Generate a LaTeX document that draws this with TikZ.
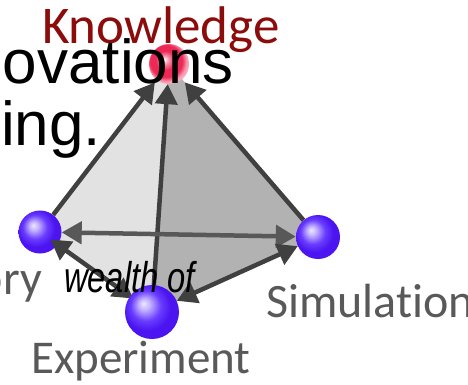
\documentclass[tikz,border=0pt]{standalone}
\usepackage{fontspec}
\setmainfont{Carlito}[Ligatures=NoCommon]
\newfontfamily\arialfont{Liberation Sans}
\usetikzlibrary{arrows.meta}
\definecolor{kred}{RGB}{140,12,12}
\definecolor{lblgray}{RGB}{89,89,89}
\definecolor{arrdark}{RGB}{64,64,64}
\definecolor{arrmid}{RGB}{88,88,88}
\definecolor{faceL}{RGB}{226,226,226}
\definecolor{faceR}{RGB}{178,178,178}
\definecolor{sphcol}{RGB}{105,60,255}
\definecolor{sphdark}{RGB}{75,20,240}
\definecolor{kball}{RGB}{238,40,85}
\pgfdeclareradialshading{purpleball}{\pgfqpoint{-8bp}{8bp}}{color(0bp)=(white!88!sphcol); color(5bp)=(white!62!sphcol); color(14bp)=(sphcol); color(22bp)=(sphdark); color(50bp)=(sphdark)}
\pgfdeclareradialshading{redball}{\pgfqpoint{-6bp}{6bp}}{color(0bp)=(white); color(5bp)=(white!50!kball); color(12bp)=(kball); color(20bp)=(kball); color(25bp)=(kball!45!white); color(50bp)=(white)}
\pgfdeclarelayer{back}
\pgfdeclarelayer{mid}
\pgfsetlayers{back,mid,main}
\tikzset{
  ball/.style={circle, inner sep=0pt, shading=purpleball},
  arrK/.style={draw=arrdark, line width=4.5pt, -{Triangle[length=20pt,width=22pt]}},
  arrB/.style={draw=arrdark, line width=4.5pt, {Triangle[length=20pt,width=22pt]}-{Triangle[length=20pt,width=22pt]}},
  lbl/.style={inner sep=0pt, text=lblgray, font=\fontsize{48}{48}\selectfont},
  big/.style={inner sep=0pt, text=black, font=\arialfont\fontsize{62}{62}\selectfont}
}
\begin{document}
\begin{tikzpicture}[x=1pt,y=-1pt]
\useasboundingbox (0,0) rectangle (468,384);
\clip (0,0) rectangle (468,384);
\coordinate (kc) at (169,64);
\coordinate (tc) at (40,232);
\coordinate (ec) at (152,312);
\coordinate (sc) at (318,237);
\begin{pgfonlayer}{back}
  \fill[faceL] (kc) -- (tc) -- (ec) -- cycle;
  \fill[faceR] (kc) -- (ec) -- (sc) -- cycle;
  \node[ball, minimum size=43pt] (T) at (tc) {};
\end{pgfonlayer}
\node[ball, minimum size=54pt] (E) at (ec) {};
\node[ball, minimum size=44pt] (S) at (sc) {};
\node[circle, inner sep=0pt, minimum size=40pt, shading=redball] (K) at (kc) {};
\begin{pgfonlayer}{mid}
  \draw[arrK, shorten >=3pt] (T) -- (K);
  \draw[arrK] (E) -- (K);
  \draw[arrK, shorten >=4pt] (S) -- (K);
  \draw[arrB, draw=arrmid] (T) -- (S);
  \draw[arrB, shorten <=-9pt, shorten >=-4pt] (T) -- (E);
  \draw[arrB] (E) -- (S);
\end{pgfonlayer}
\node[lbl, anchor=base west, text=kred, font=\fontsize{53}{53}\selectfont] (Klbl) at (42,43) {Knowledge};
\node[lbl, anchor=base east] (Tlbl) at (42,294) {Theory};
\node[lbl, anchor=base west] (Slbl) at (266,317) {Simulation};
\node[lbl, anchor=base west, font=\fontsize{47}{47}\selectfont] (Elbl) at (31,373) {Experiment};
\node[big, anchor=base east] (ov) at (234,83) {ovations};
\node[big, anchor=base west] (ing) at (1,145) {ing.};
\node[inner sep=0pt, anchor=base west, font=\arialfont\itshape\fontsize{43}{43}\selectfont] (wl) at (64,292) {\scalebox{0.76}[1]{wealth of}};
\end{tikzpicture}
\end{document}
